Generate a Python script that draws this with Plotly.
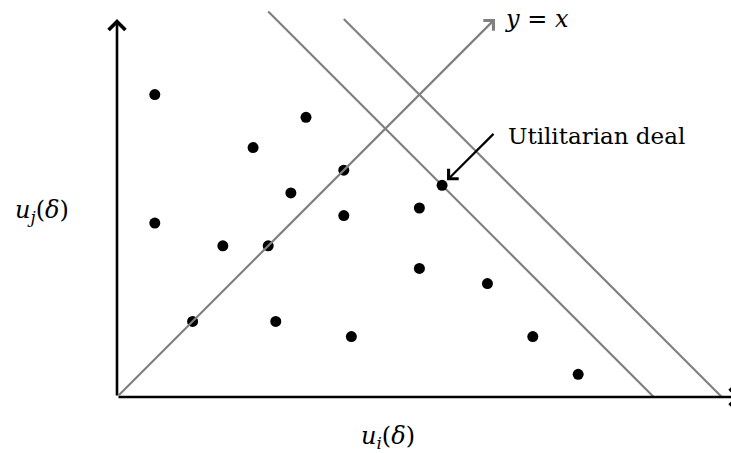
import plotly.graph_objects as go

# Feasible deals (utility of agent i, utility of agent j)
deal_ui = [1.0, 5.0, 3.6, 6.0, 4.6, 8.6, 1.0, 6.0, 8.0, 2.8, 4.0, 8.0, 9.8, 2.0, 4.2, 6.2, 11.0, 12.2]
deal_uj = [8.0, 7.4, 6.6, 6.0, 5.4, 5.6, 4.6, 4.8, 5.0, 4.0, 4.0, 3.4, 3.0, 2.0, 2.0, 1.6, 1.6, 0.6]

# Utilitarian deal and iso-welfare lines (u_i + u_j = const)
best_ui, best_uj = 8.6, 5.6
welfare_levels = [best_ui + best_uj, 16.0]
iso_top_ui = [4.0, 6.0]

diag_end = 10.0
axis_x_end = 16.5
axis_y_end = 10.0

SCALE = 37.8  # px per unit
W, H = 731, 453
ORIGIN_PX = (117, 397)

GRAY = "#808080"
SERIF = "DejaVu Serif, Liberation Serif, serif"

fig = go.Figure()

# iso-welfare lines
for level, top_ui in zip(welfare_levels, iso_top_ui):
    fig.add_trace(go.Scatter(
        x=[top_ui, level], y=[level - top_ui, 0],
        mode="lines", line=dict(color=GRAY, width=2.2),
        hoverinfo="skip", showlegend=False, cliponaxis=False,
    ))

# deals
fig.add_trace(go.Scatter(
    x=deal_ui, y=deal_uj, mode="markers",
    marker=dict(color="black", size=11, line=dict(width=0)),
    showlegend=False, cliponaxis=False,
))

def arrow(x0, y0, x1, y1, color, width, standoff=0):
    fig.add_annotation(
        x=x1, y=y1, ax=x0, ay=y0, xref="x", yref="y", axref="x", ayref="y",
        text="", showarrow=True, arrowhead=4, arrowsize=1.25,
        arrowwidth=width, arrowcolor=color, standoff=standoff,
    )

# axes
arrow(0, 0, axis_x_end, 0, "black", 2.6)
arrow(0, 0, 0, axis_y_end, "black", 2.6)
# y = x
arrow(0, 0, diag_end, diag_end, GRAY, 2.2)
# pointer to the utilitarian deal
arrow(10.0, 7.0, best_ui, best_uj, "black", 2.2, standoff=7)

def label(x, y, text, xanchor="center", size=23):
    fig.add_annotation(
        x=x, y=y, xref="x", yref="y", text=text, showarrow=False,
        xanchor=xanchor, yanchor="middle",
        font=dict(family=SERIF, size=size, color="black"),
    )

label(10.3, 6.9, "Utilitarian deal", xanchor="left")
label(10.22, 10.0, "<i>y</i> = <i>x</i>", xanchor="left", size=24)
label(-1.98, 4.9, "<i>u</i><sub><i>j</i></sub>(<i>δ</i>)", size=24)
label(7.17, -1.06, "<i>u</i><sub><i>i</i></sub>(<i>δ</i>)", size=24)

fig.update_layout(
    width=W, height=H,
    margin=dict(l=0, r=0, t=0, b=0),
    paper_bgcolor="white", plot_bgcolor="white",
    xaxis=dict(range=[-ORIGIN_PX[0] / SCALE, (W - ORIGIN_PX[0]) / SCALE],
               visible=False, fixedrange=True),
    yaxis=dict(range=[-(H - ORIGIN_PX[1]) / SCALE, ORIGIN_PX[1] / SCALE],
               visible=False, fixedrange=True),
)

fig.write_html("out.html")
